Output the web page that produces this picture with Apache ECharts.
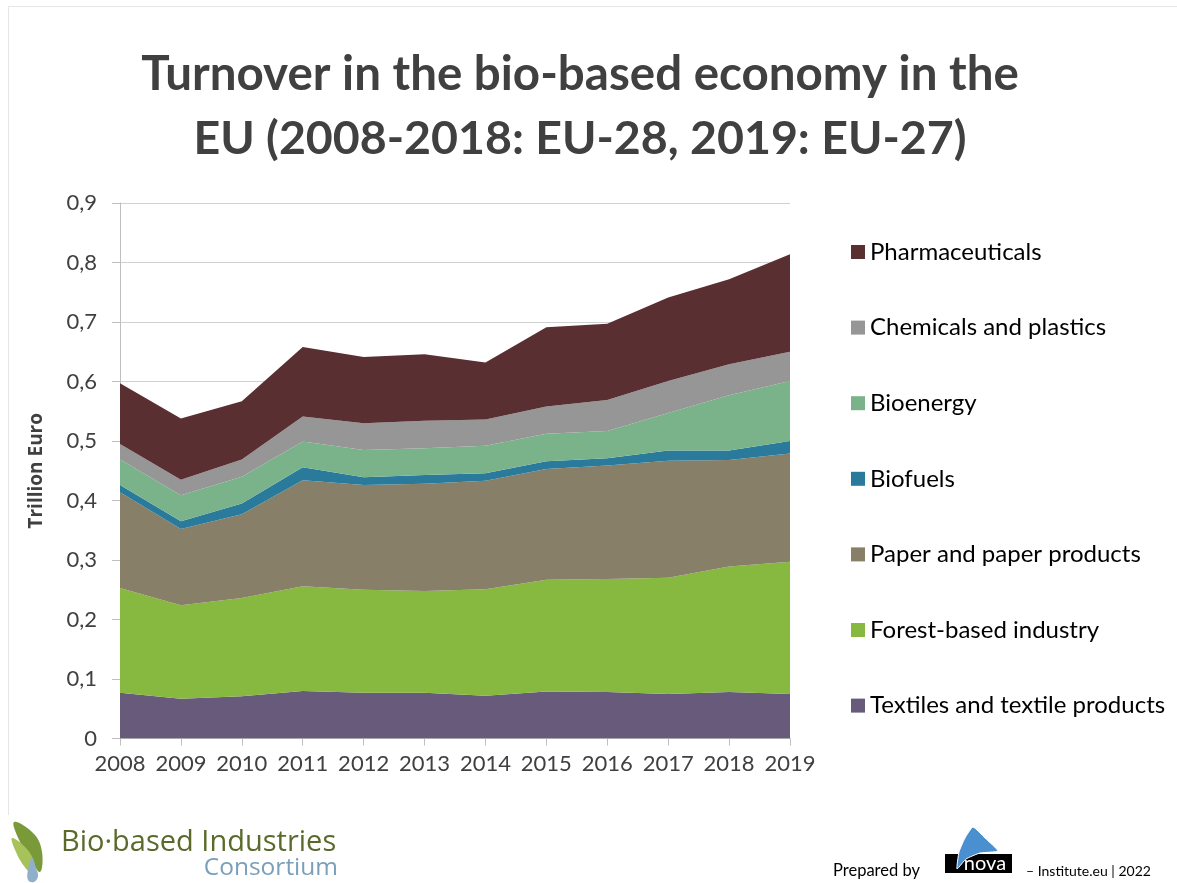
<!DOCTYPE html>
<html>
<head>
<meta charset="utf-8">
<script src="https://cdn.jsdelivr.net/npm/echarts@6/dist/echarts.min.js"></script>
<style>
  html, body { margin: 0; padding: 0; background: #ffffff; }
  #chart { width: 1177px; height: 883px; }
</style>
</head>
<body>
<div id="chart"></div>
<script>
// Turnover of the bio-based economy by sector, trillion euro
const years = ['2008', '2009', '2010', '2011', '2012', '2013', '2014', '2015', '2016', '2017', '2018', '2019'];

const textiles      = [0.077, 0.067, 0.071, 0.080, 0.077, 0.077, 0.072, 0.079, 0.078, 0.075, 0.078, 0.075];
const forestBased   = [0.176, 0.157, 0.165, 0.176, 0.173, 0.171, 0.179, 0.188, 0.190, 0.195, 0.211, 0.222];
const paper         = [0.161, 0.128, 0.141, 0.178, 0.176, 0.180, 0.182, 0.186, 0.191, 0.197, 0.179, 0.182];
const biofuels      = [0.012, 0.013, 0.018, 0.022, 0.013, 0.015, 0.013, 0.013, 0.012, 0.017, 0.016, 0.021];
const bioenergy     = [0.043, 0.044, 0.045, 0.043, 0.046, 0.045, 0.046, 0.046, 0.046, 0.063, 0.093, 0.101];
const chemicals     = [0.026, 0.026, 0.029, 0.042, 0.045, 0.046, 0.044, 0.046, 0.052, 0.054, 0.052, 0.049];
const pharma        = [0.102, 0.103, 0.098, 0.117, 0.111, 0.112, 0.096, 0.133, 0.128, 0.140, 0.143, 0.164];

const yTicks = ['0', '0,1', '0,2', '0,3', '0,4', '0,5', '0,6', '0,7', '0,8', '0,9'];

// Sectors drawn bottom to top
const sectors = [
  { name: 'Textiles and textile products', data: textiles,    color: '#675a7a' },
  { name: 'Forest-based industry',         data: forestBased, color: '#87b840' },
  { name: 'Paper and paper products',      data: paper,       color: '#877f67' },
  { name: 'Biofuels',                      data: biofuels,    color: '#2a7b9b' },
  { name: 'Bioenergy',                     data: bioenergy,   color: '#7ab38a' },
  { name: 'Chemicals and plastics',        data: chemicals,   color: '#969696' },
  { name: 'Pharmaceuticals',               data: pharma,      color: '#5a2f31' }
];

const FONT = 'Lato, "Open Sans", sans-serif';
const WIDE = '"Open Sans", Lato, sans-serif';
const TEXT = '#404040';

const chart = echarts.init(document.getElementById('chart'), null, { renderer: 'canvas' });

chart.setOption({
  backgroundColor: '#ffffff',
  animation: false,
  grid: { left: 120, right: 387, top: 203, bottom: 144.5, containLabel: false },
  legend: {
    orient: 'vertical',
    left: 846,
    top: 235,
    itemWidth: 14,
    itemHeight: 14,
    itemGap: 51.6,
    icon: 'rect',
    data: sectors.map(s => s.name).reverse(),
    textStyle: { fontFamily: FONT, fontSize: 24, color: '#000000' }
  },
  xAxis: {
    type: 'category',
    data: years,
    boundaryGap: false,
    axisLine: { lineStyle: { color: '#bfbfbf', width: 1 } },
    axisTick: { show: true, inside: false, length: 7, interval: 0, lineStyle: { color: '#bfbfbf' } },
    axisLabel: { fontFamily: FONT, fontSize: 22, color: TEXT, margin: 14, interval: 0, hideOverlap: false },
    splitLine: { show: false }
  },
  yAxis: {
    type: 'value',
    min: 0,
    max: 0.9,
    interval: 0.1,
    name: 'Trillion Euro',
    nameLocation: 'middle',
    nameGap: 74,
    nameRotate: 90,
    nameTextStyle: { fontFamily: WIDE, fontSize: 19, fontWeight: 'bold', color: TEXT },
    axisLine: { show: true, lineStyle: { color: '#bfbfbf', width: 1 } },
    axisTick: { show: true, inside: false, length: 8, lineStyle: { color: '#bfbfbf' } },
    axisLabel: {
      fontFamily: FONT, fontSize: 22, color: TEXT, margin: 23,
      formatter: v => yTicks[Math.round(v * 10)]
    },
    splitLine: { show: true, lineStyle: { color: '#d0d0d0', width: 1 } }
  },
  series: sectors.map(s => ({
    name: s.name,
    type: 'line',
    stack: 'turnover',
    data: s.data,
    symbol: 'none',
    smooth: false,
    color: s.color,
    lineStyle: { width: 0 },
    areaStyle: { color: s.color, opacity: 1 },
    emphasis: { disabled: true }
  })),
  graphic: [
    // Page frame
    {
      type: 'polyline',
      shape: { points: [[1177, 6.5], [8.5, 6.5], [8.5, 815]] },
      style: { stroke: '#e6e6e6', lineWidth: 1, fill: null }
    },
    // Title
    {
      type: 'text', x: 580, y: 75,
      style: {
        text: 'Turnover in the bio-based economy in the',
        fontFamily: FONT, fontSize: 47.5, fontWeight: 'bold', fill: '#404040',
        align: 'center', verticalAlign: 'middle'
      }
    },
    {
      type: 'text', x: 580, y: 139,
      style: {
        text: 'EU (2008-2018: EU-28, 2019: EU-27)',
        fontFamily: FONT, fontSize: 46.5, fontWeight: 'bold', fill: '#404040',
        align: 'center', verticalAlign: 'middle'
      }
    },
    // Consortium emblem: leaves and drop
    {
      type: 'polygon',
      shape: { points: [[14, 822], [34, 834], [42, 852], [40, 872], [30, 858], [20, 842]], smooth: 0.4 },
      style: { fill: '#7a9a3a' }
    },
    {
      type: 'polygon',
      shape: { points: [[12, 838], [26, 848], [34, 862], [34, 876], [24, 866], [16, 852]], smooth: 0.4 },
      style: { fill: '#a7c25a' }
    },
    {
      type: 'polygon',
      shape: { points: [[32, 858], [36, 868], [38, 876], [34, 882], [28, 880], [28, 870]], smooth: 0.4 },
      style: { fill: '#8fb0c8' }
    },
    {
      type: 'text', x: 61, y: 843,
      style: { text: 'Bio\u00b7based Industries', fontFamily: WIDE, fontSize: 29, fill: '#5b6a2b', verticalAlign: 'middle' }
    },
    {
      type: 'text', x: 338, y: 868,
      style: { text: 'Consortium', fontFamily: WIDE, fontSize: 24.5, fill: '#7a9fba', align: 'right', verticalAlign: 'middle' }
    },
    // Prepared-by credit with nova emblem
    {
      type: 'text', x: 833, y: 871,
      style: { text: 'Prepared by', fontFamily: FONT, fontSize: 16.5, fill: '#000000', verticalAlign: 'middle' }
    },
    {
      type: 'rect', shape: { x: 945, y: 854, width: 67, height: 19 },
      style: { fill: '#000000' }
    },
    {
      type: 'polygon',
      shape: { points: [[973, 827], [985, 838], [998, 851], [980, 853], [966, 859], [957, 869], [959, 852], [965, 838]], smooth: 0.15 },
      style: { fill: '#4a8fd0', stroke: '#ffffff', lineWidth: 1 }
    },
    {
      type: 'text', x: 985, y: 864,
      style: { text: 'nova', fontFamily: FONT, fontSize: 20, fill: '#ffffff', align: 'center', verticalAlign: 'middle' }
    },
    {
      type: 'text', x: 1026, y: 871,
      style: { text: '\u2013 Institute.eu | 2022', fontFamily: FONT, fontSize: 14, fill: '#000000', verticalAlign: 'middle' }
    }
  ]
});
</script>
</body>
</html>
